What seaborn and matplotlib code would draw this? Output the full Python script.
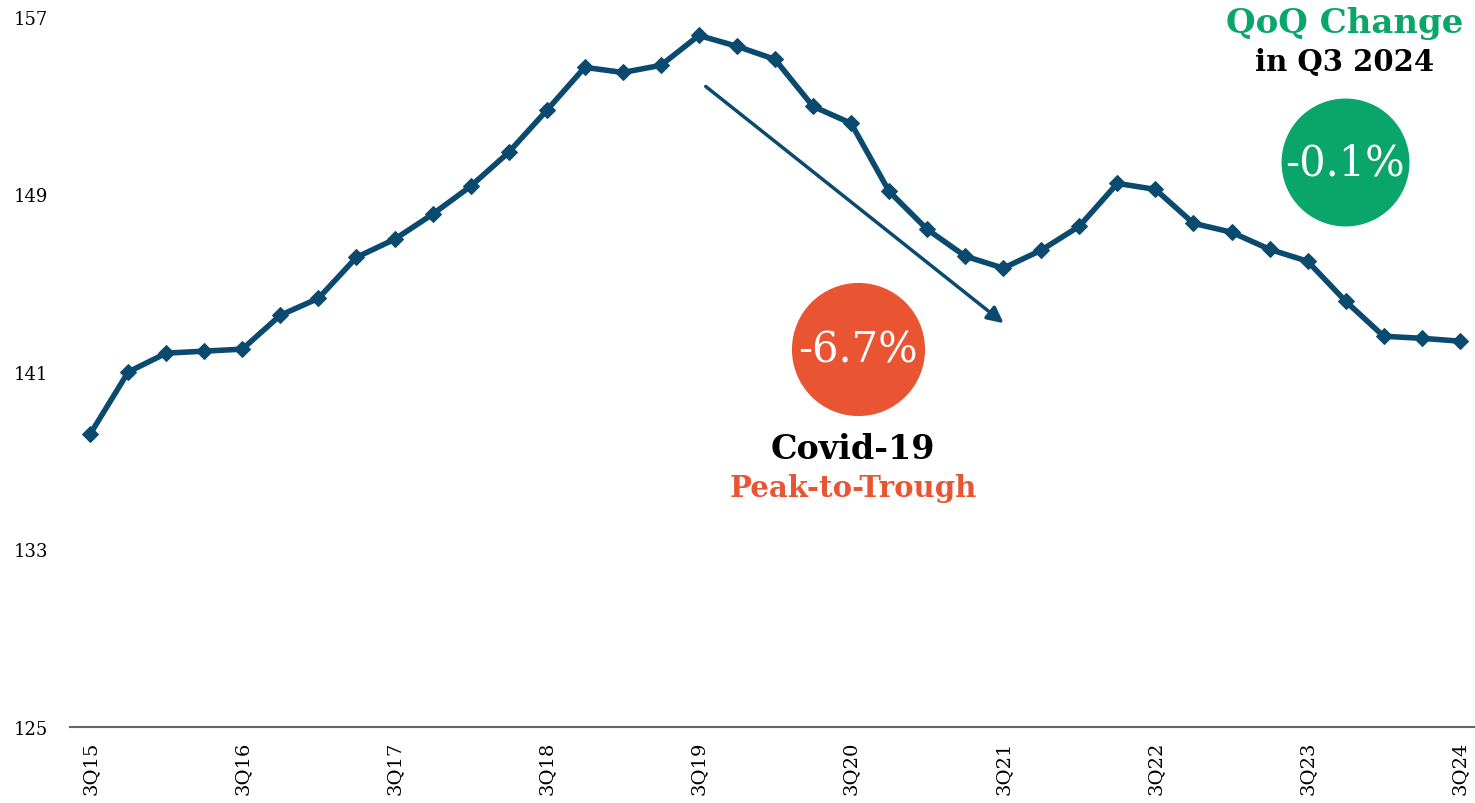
import numpy as np
import pandas as pd
import seaborn as sns
from matplotlib import pyplot as plt

quarters = ['3Q15', '4Q15', '1Q16', '2Q16', '3Q16', '4Q16', '1Q17', '2Q17', '3Q17',
            '4Q17', '1Q18', '2Q18', '3Q18', '4Q18', '1Q19', '2Q19', '3Q19', '4Q19',
            '1Q20', '2Q20', '3Q20', '4Q20', '1Q21', '2Q21', '3Q21', '4Q21', '1Q22',
            '2Q22', '3Q22', '4Q22', '1Q23', '2Q23', '3Q23', '4Q23', '1Q24', '2Q24', '3Q24']
values = [138.2, 141.0, 141.85, 141.94, 142.03, 143.56, 144.32, 146.17, 146.98,
          148.11, 149.37, 150.9, 152.79, 154.73, 154.5, 154.82, 156.17, 155.68,
          155.09, 152.97, 152.21, 149.14, 147.43, 146.22, 145.68, 146.49, 147.57,
          149.5, 149.23, 147.7, 147.3, 146.53, 145.99, 144.19, 142.61, 142.52, 142.39]
y_ticks = [125, 133, 141, 149, 157]
covid_change = '-6.7%'
qoq_change = '-0.1%'

navy = '#0B4A6F'
green = '#0AA56B'
orange = '#E95433'

sns.set_style('white')
plt.rcParams['font.family'] = ['DejaVu Serif']

df = pd.DataFrame({'q': np.arange(len(quarters)), 'v': values})

f = plt.figure(figsize=(14.75, 8.04), dpi=100)
ax = f.add_axes([70/1475, 1 - 728/804, 1 - 70/1475, 710/804])

sns.lineplot(data=df, x='q', y='v', ax=ax, color=navy, linewidth=4,
             marker='D', markersize=8, markeredgecolor=navy)

ax.set_xlim(-0.53, 36.4)
ax.set_ylim(125, 157)
ax.set_yticks(y_ticks)
ax.set_yticklabels([str(t) for t in y_ticks], fontsize=13)
ax.set_xticks(df['q'][::4])
ax.set_xticklabels(quarters[::4], rotation=90, fontsize=14)
ax.tick_params(axis='y', length=0, pad=16, labelcolor='black')
ax.tick_params(axis='x', length=0, pad=10, labelcolor='black')
ax.set_xlabel('')
ax.set_ylabel('')
sns.despine(ax=ax, left=True)
ax.spines['bottom'].set_color('#666666')
ax.spines['bottom'].set_linewidth(1.5)

# covid arrow
ax.annotate('', xy=(24.01, 143.2), xytext=(16.18, 153.87),
            arrowprops=dict(arrowstyle='-|>', color=navy, lw=2.5,
                            mutation_scale=24, shrinkA=0, shrinkB=0))

# bubbles
ax.scatter([20.18], [142.03], s=9000, color=orange, zorder=5, clip_on=False)
ax.text(20.18, 142.03, covid_change, color='white', fontsize=30,
        ha='center', va='center', zorder=6)
ax.scatter([32.97], [150.45], s=8300, color=green, zorder=5, clip_on=False)
ax.text(32.97, 150.45, qoq_change, color='white', fontsize=30,
        ha='center', va='center', zorder=6)

f.text(853/1475, 1 - 450/804, 'Covid-19', fontsize=24, fontweight='bold',
       color='black', ha='center', va='center')
f.text(853/1475, 1 - 489/804, 'Peak-to-Trough', fontsize=21, fontweight='bold',
       color=orange, ha='center', va='center')
f.text(1345/1475, 1 - 23/804, 'QoQ Change', fontsize=24.5, fontweight='bold',
       color=green, ha='center', va='center')
f.text(1345/1475, 1 - 62/804, 'in Q3 2024', fontsize=21, fontweight='bold',
       color='black', ha='center', va='center')

f.savefig('out.png', dpi=100)
